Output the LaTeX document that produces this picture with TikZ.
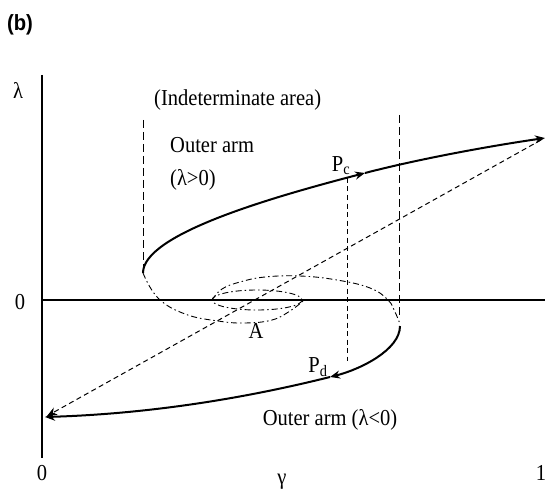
\documentclass[tikz,border=0pt]{standalone}
\usepackage{fontspec}
\setmainfont{Liberation Serif}[FakeStretch=0.9]
\newfontfamily\labfont{Liberation Sans}[FakeStretch=0.92]
\usetikzlibrary{arrows.meta}
\begin{document}
\begin{tikzpicture}[x=1pt,y=-1pt,
  txt/.style={inner sep=0pt, font=\fontsize{22.8}{26}\selectfont},
  axisline/.style={line width=2.2pt},
  curveline/.style={line width=2pt},
  longdash/.style={line width=1pt, dash pattern=on 8pt off 4pt},
  shortdash/.style={line width=1pt, dash pattern=on 5pt off 3.5pt},
  dashdotline/.style={line width=0.9pt, dash pattern=on 6pt off 3pt on 1.5pt off 3pt},
  tip/.style={-{Stealth[length=10pt,width=8pt]}}]
\useasboundingbox (0,0) rectangle (545,494);

% coordinates
\coordinate (ytop) at (42,75);
\coordinate (ybot) at (42,458);
\coordinate (xl) at (42,300);
\coordinate (xr) at (545,300);
\coordinate (turnU) at (143,273);
\coordinate (pc) at (365,173);
\coordinate (endU) at (545,138);
\coordinate (turnL) at (400,326);
\coordinate (pd) at (330,377);
\coordinate (endL) at (45,417);
\coordinate (dstart) at (541,140);
\coordinate (dend) at (47,416);
\coordinate (lvt) at (143,120);
\coordinate (rvt) at (399,115);
\coordinate (rvb) at (399,318);
\coordinate (pcv) at (347,178);
\coordinate (pdv) at (347,361);

% axes
\draw[axisline] (ytop) -- (ybot);
\draw[axisline] (xl) -- (xr);

% vertical dashed bounds
\draw[longdash] (lvt) -- (turnU);
\draw[longdash] (rvt) -- (rvb);
\draw[shortdash] (pcv) -- (pdv);

% diagonal dashed
\draw[shortdash, tip] (dstart) -- (dend);

% dash-dot loop
\draw[dashdotline] plot[smooth, tension=0.7] coordinates {(143,273) (158,298) (185,314) (218,321) (245,323) (272,320) (290,311) (303,301)};
\draw[dashdotline] (257,300) ellipse [x radius=45, y radius=10];
\draw[dashdotline] plot[smooth, tension=0.7] coordinates {(212,300) (222,289) (240,282) (265,277) (300,276) (337,280) (370,288) (388,300) (395,312) (400,324)};

% upper solid curve
\draw[curveline, tip] (turnU) .. controls (143,235) and (265,199) .. (pc);
\draw[curveline, tip] (pc) .. controls (420,158.7) and (490,146) .. (endU);

% lower solid curve
\draw[curveline, tip] (turnL) .. controls (400,350) and (360,369.5) .. (pd);
\draw[curveline, tip] (pd) .. controls (240,399.5) and (145,414) .. (endL);

% labels
\node[txt, font=\labfont\bfseries\fontsize{22}{26}\selectfont] (b) at (20,25) {(b)};
\node[txt] (lam) at (18,90) {λ};
\node[txt, anchor=west] (ind) at (154,100) {(Indeterminate area)};
\node[txt, anchor=west] (oa1) at (170,145) {Outer arm};
\node[txt, anchor=west] (oa2) at (170,180) {(λ>0)};
\node[txt] (pclab) at (341,166) {P\textsubscript{c}};
\node[txt] (pdlab) at (318,367) {P\textsubscript{d}};
\node[txt] (alab) at (256,331) {A};
\node[txt] (oa3) at (330,420) {Outer arm (λ<0)};
\node[txt] (z1) at (20,302) {0};
\node[txt] (z2) at (42,473) {0};
\node[txt] (gam) at (282,482) {γ};
\node[txt] (one) at (541,473) {1};
\end{tikzpicture}
\end{document}
